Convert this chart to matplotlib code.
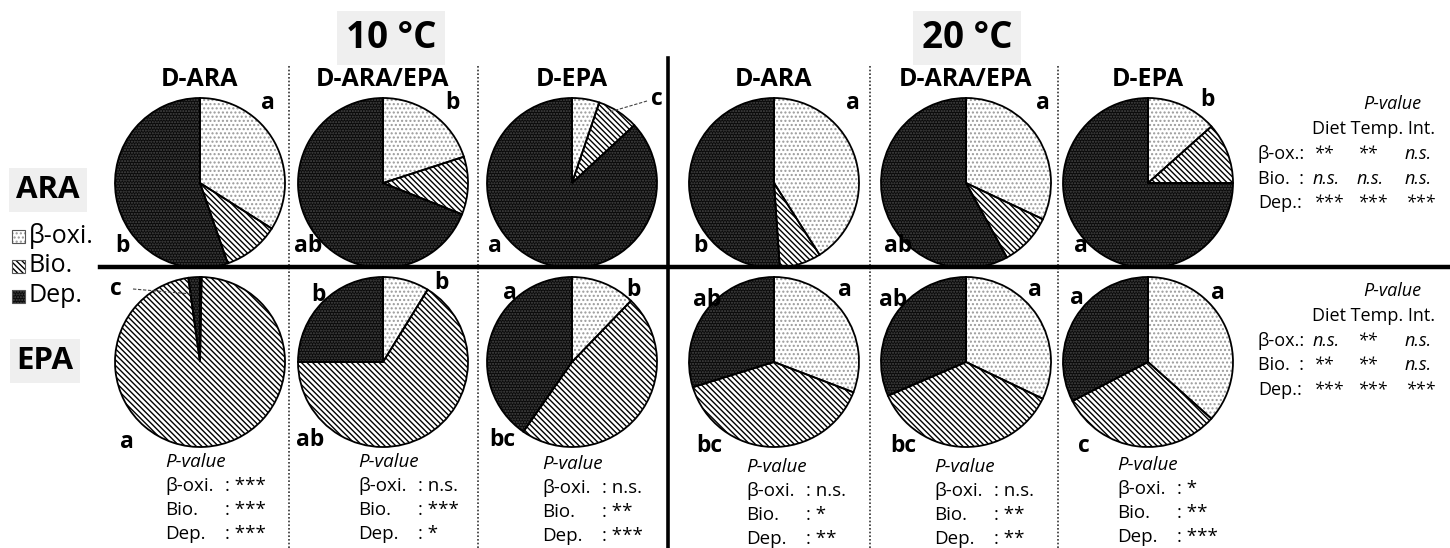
import matplotlib
matplotlib.use("Agg")
import matplotlib.pyplot as plt
from matplotlib.patches import Rectangle

# ---------------- data ----------------
diets = ['D-ARA', 'D-ARA/EPA', 'D-EPA', 'D-ARA', 'D-ARA/EPA', 'D-EPA']
temps = ['10 °C', '20 °C']
components = ['β-oxi.', 'Bio.', 'Dep.']

ara_boxi = [34.0, 20.0, 5.2, 41.0, 32.0, 13.4]
ara_bio = [10.7, 11.0, 7.9, 7.9, 10.0, 11.6]
ara_dep = [55.3, 69.0, 86.9, 51.1, 58.0, 75.0]

epa_boxi = [0.3, 8.8, 12.2, 30.8, 32.1, 36.6]
epa_bio = [97.5, 66.2, 47.5, 39.4, 36.4, 30.8]
epa_dep = [2.2, 25.0, 40.3, 29.8, 31.5, 32.6]

# significance letters
ara_letters_tr = ['a', 'b', 'c', 'a', 'a', 'b']
ara_letters_bl = ['b', 'ab', 'a', 'b', 'ab', 'a']
epa_letters_tl = ['c', 'b', 'a', 'ab', 'ab', 'a']
epa_letters_tr = ['', 'b', 'b', 'a', 'a', 'a']
epa_letters_bl = ['a', 'ab', 'bc', 'bc', 'bc', 'c']

# P-values below each column (EPA)
p_boxi = ['***', 'n.s.', 'n.s.', 'n.s.', 'n.s.', '*']
p_bio = ['***', '***', '**', '*', '**', '**']
p_dep = ['***', '*', '***', '**', '**', '***']

# two-way tables (Diet, Temp., Int.)
tab_rows = ['β-ox.:', 'Bio.  :', 'Dep.:']
ara_tab = [['**', '**', 'n.s.'], ['n.s.', 'n.s.', 'n.s.'], ['***', '***', '***']]
epa_tab = [['n.s.', '**', 'n.s.'], ['**', '**', 'n.s.'], ['***', '***', '***']]

# ---------------- layout ----------------
W, H = 1450, 548
fig = plt.figure(figsize=(W / 100, H / 100), dpi=100)
ax = fig.add_axes([0, 0, 1, 1])
FONT = ['Open Sans', 'DejaVu Sans']

def Y(y):
    return H - y

col_x = [200, 383, 572, 774, 966, 1148]
row1_y, row2_y = 183, 362
R = 85

face = ['white', 'white', '#0a0a0a']
hatch_col = ['#9a9a9a', 'black', '#484848']
hatches = ['....', '\\' * 6, '......']

def draw_pie(vals, cx, cy):
    w, _ = ax.pie(vals, center=(cx, Y(cy)), radius=R, startangle=90,
                  counterclock=False, colors=face,
                  wedgeprops=dict(linewidth=0))
    for wd, hc, ht in zip(w, hatch_col, hatches):
        wd.set_hatch(ht)
        wd.set_edgecolor(hc)
        wd.set_linewidth(0)
    ax.pie(vals, center=(cx, Y(cy)), radius=R, startangle=90,
           counterclock=False, colors=['none'] * 3,
           wedgeprops=dict(linewidth=1.3, edgecolor='black'))

for i in range(6):
    draw_pie([ara_boxi[i], ara_bio[i], ara_dep[i]], col_x[i], row1_y)
    draw_pie([epa_boxi[i], epa_bio[i], epa_dep[i]], col_x[i], row2_y)

ax.set_xlim(0, W)
ax.set_ylim(0, H)
ax.set_axis_off()

def txt(x, y, s, **kw):
    kw.setdefault('family', FONT)
    ax.text(x, Y(y), s, **kw)

# temperature titles
for t, x in zip(temps, [391, 967]):
    txt(x, 38, t, fontsize=26.5, fontweight='bold', ha='center', va='center',
        bbox=dict(facecolor='#efefef', edgecolor='none', pad=6))

# diet headings
for d, x in zip(diets, col_x):
    txt(x, 80, d, fontsize=18, fontweight='bold', ha='center', va='center')

# separators
for x in [289, 478, 870, 1058]:
    ax.plot([x, x], [Y(66), Y(548)], color='#333333', lw=1.2, ls=(0, (1, 1.2)))
ax.plot([668, 668], [Y(58), Y(548)], color='black', lw=2.6)
ax.plot([100, 1450], [Y(267), Y(267)], color='black', lw=3.2)

# row labels
txt(48, 190, 'ARA', fontsize=22.5, fontweight='bold', ha='center', va='center',
    bbox=dict(facecolor='#efefef', edgecolor='none', pad=5))
txt(45, 361, 'EPA', fontsize=22.5, fontweight='bold', ha='center', va='center',
    bbox=dict(facecolor='#efefef', edgecolor='none', pad=5))

# legend
for k, (lab, yy) in enumerate(zip(components, [236, 266, 296])):
    ax.add_patch(Rectangle((12, Y(yy) - 6.5), 13, 13, facecolor=face[k],
                           hatch=hatches[k], edgecolor=hatch_col[k], lw=0))
    ax.add_patch(Rectangle((12, Y(yy) - 6.5), 13, 13, facecolor='none',
                           edgecolor='#555555', lw=0.8))
    txt(29, yy, lab, fontsize=18, ha='left', va='center')

# letters
LF = dict(fontsize=16.5, fontweight='bold', ha='center', va='center')
ara_tr_pos = [(268, 103), (452, 103), (657, 99), (853, 103), (1043, 103), (1207, 100)]
ara_bl_pos = [(122, 246), (308, 246), (495, 246), (700, 246), (898, 246), (1081, 246)]
for i in range(6):
    txt(*ara_tr_pos[i], ara_letters_tr[i], **LF)
    txt(*ara_bl_pos[i], ara_letters_bl[i], **LF)
ax.plot([647, 606], [Y(101), Y(113)], color='#444444', lw=0.8, ls=(0, (3, 1.5)))

epa_tl_pos = [(116, 289), (318, 295), (510, 293), (707, 300), (893, 300), (1077, 298)]
epa_tr_pos = [None, (441, 283), (633, 290), (845, 290), (1035, 290), (1218, 293)]
epa_bl_pos = [(127, 442), (310, 440), (502, 440), (709, 446), (903, 446), (1084, 446)]
for i in range(6):
    txt(*epa_tl_pos[i], epa_letters_tl[i], **LF)
    if epa_tr_pos[i] is not None:
        txt(*epa_tr_pos[i], epa_letters_tr[i], **LF)
    txt(*epa_bl_pos[i], epa_letters_bl[i], **LF)
ax.plot([133, 192], [Y(289), Y(294)], color='#444444', lw=0.8, ls=(0, (3, 1.5)))

# bottom p-values
PF = 13.5
p_x = [165, 358, 542, 746, 934, 1117]
p_y0 = [462, 462, 464, 467, 467, 465]
for i in range(6):
    x, y0 = p_x[i], p_y0[i]
    txt(x, y0, 'P-value', fontsize=PF, style='italic', ha='left', va='center')
    for j, (lab, v) in enumerate(zip(['β-oxi.', 'Bio.', 'Dep.'],
                                     [p_boxi[i], p_bio[i], p_dep[i]])):
        yy = y0 + 24 * (j + 1)
        txt(x, yy, lab, fontsize=PF, ha='left', va='center')
        txt(x + 60, yy, ': ' + v, fontsize=PF, ha='left', va='center')

# right-hand two-way tables
TF = 13
def table(y0, data):
    txt(1392, y0, 'P-value', fontsize=TF, style='italic', ha='center', va='center')
    txt(1312, y0 + 25, 'Diet Temp. Int.', fontsize=TF, ha='left', va='center')
    for j, (lab, row) in enumerate(zip(tab_rows, data)):
        yy = y0 + 50 + 24.5 * j
        txt(1258, yy, lab, fontsize=TF, ha='left', va='center')
        for v, xx in zip(row, [1313, 1357, 1405]):
            txt(xx, yy, v, fontsize=TF, style='italic', ha='left', va='center')

table(104, ara_tab)
table(291, epa_tab)

fig.savefig('out.png', dpi=100)
